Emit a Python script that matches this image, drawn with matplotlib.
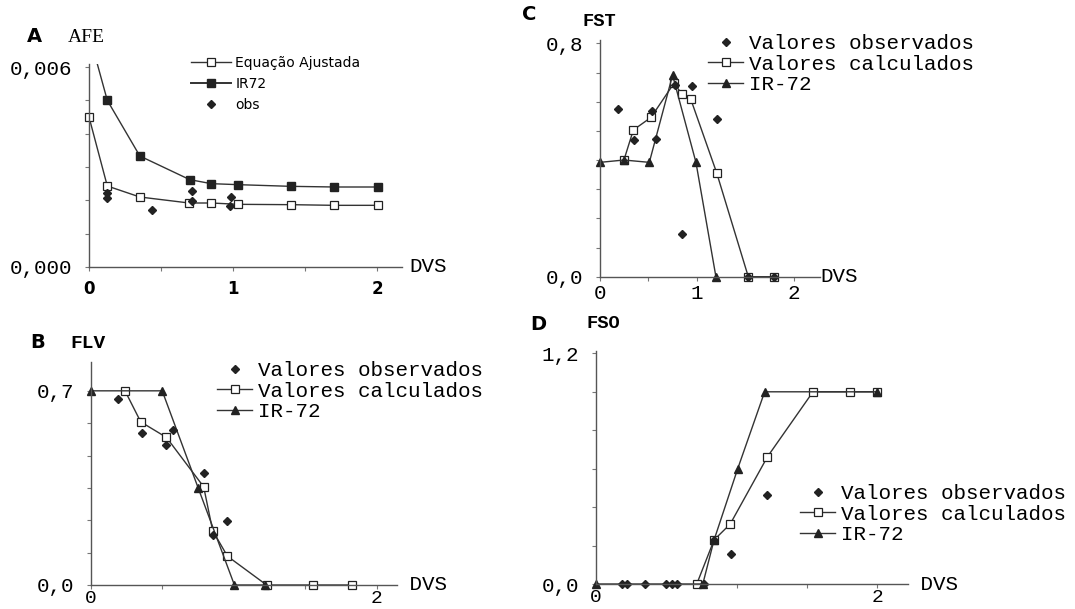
import numpy as np
import matplotlib.pyplot as plt
from matplotlib.lines import Line2D

# ---------------------------------------------------------------
# dados (DVS x variavel)
# ---------------------------------------------------------------

# A - AFE
afe_aj_x = [0.0, 0.127, 0.353, 0.695, 0.85, 1.037, 1.40, 1.704, 2.01]
afe_aj_y = [0.0045, 0.00243, 0.0021, 0.00192, 0.00192, 0.00188, 0.00187, 0.00185, 0.00185]
afe_ir_x = [0.0, 0.127, 0.353, 0.70, 0.85, 1.037, 1.40, 1.704, 2.01]
afe_ir_y = [0.0070, 0.0050, 0.00333, 0.00262, 0.0025, 0.00247, 0.00242, 0.0024, 0.0024]
afe_obs_x = [0.127, 0.127, 0.44, 0.716, 0.716, 0.984, 0.977]
afe_obs_y = [0.00222, 0.00208, 0.00172, 0.00228, 0.00197, 0.0021, 0.00182]

# B - FLV
flv_calc_x = [0.24, 0.35, 0.53, 0.79, 0.853, 0.956, 1.23, 1.557, 1.825]
flv_calc_y = [0.70, 0.588, 0.532, 0.354, 0.196, 0.104, 0.0, 0.0, 0.0]
flv_ir_x = [0.0, 0.50, 0.753, 1.005, 1.22]
flv_ir_y = [0.70, 0.70, 0.348, 0.0, 0.0]
flv_obs_x = [0.193, 0.357, 0.527, 0.578, 0.793, 0.853, 0.956]
flv_obs_y = [0.669, 0.549, 0.504, 0.558, 0.405, 0.18, 0.232]

# C - FST
fst_calc_x = [0.247, 0.344, 0.526, 0.763, 0.849, 0.935, 1.203, 1.53, 1.80]
fst_calc_y = [0.40, 0.503, 0.546, 0.663, 0.625, 0.61, 0.357, 0.0, 0.0]
fst_ir_x = [0.0, 0.247, 0.509, 0.749, 0.99, 1.196]
fst_ir_y = [0.392, 0.40, 0.392, 0.691, 0.392, 0.0]
fst_obs_x = [0.189, 0.35, 0.533, 0.574, 0.773, 0.945, 1.203, 0.849, 1.53, 1.80]
fst_obs_y = [0.574, 0.469, 0.569, 0.471, 0.657, 0.654, 0.54, 0.145, 0.0, 0.0]

# D - FSO
fso_calc_x = [0.717, 0.84, 0.955, 1.22, 1.544, 1.81, 2.0]
fso_calc_y = [0.0, 0.229, 0.312, 0.662, 1.0, 1.0, 1.0]
fso_ir_x = [0.0, 0.76, 0.84, 1.007, 1.20, 2.0]
fso_ir_y = [0.0, 0.0, 0.229, 0.597, 1.0, 1.0]
fso_obs_x = [0.183, 0.223, 0.349, 0.496, 0.539, 0.575, 0.77, 0.84, 0.96, 1.22]
fso_obs_y = [0.0, 0.0, 0.0, 0.0, 0.0, 0.0, 0.0, 0.229, 0.156, 0.463]

W, H = 1075, 609
fig = plt.figure(figsize=(W / 100, H / 100), dpi=100)

MONO = ['Courier New', 'Liberation Mono', 'Nimbus Mono PS', 'FreeMono', 'DejaVu Sans Mono']
NARROW = ['Liberation Sans Narrow', 'DejaVu Sans']
LC = '#333333'


def eixo(left, right, bottom, top):
    # posicao em pixels da imagem
    return fig.add_axes([left / W, 1 - bottom / H, (right - left) / W, (bottom - top) / H])


def fig_text(x, y, s, **kw):
    fig.text(x / W, 1 - y / H, s, **kw)


def estilo(ax, xmax, ymax, yticks, ylabels, xlabels, xfont, xsize, xweight='normal', xpad=6):
    ax.set_xlim(0, xmax)
    ax.set_ylim(0, ymax)
    for s in ['top', 'right']:
        ax.spines[s].set_visible(False)
    for s in ['left', 'bottom']:
        ax.spines[s].set_color('#555555')
        ax.spines[s].set_linewidth(1.0)
    ax.set_yticks(yticks)
    ax.set_yticklabels(ylabels, family=MONO, fontsize=15)
    ax.set_xticks([0, 0.5, 1, 1.5, 2])
    ax.set_xticklabels(xlabels, family=xfont, fontsize=xsize, fontweight=xweight)
    ax.tick_params(axis='both', length=3, width=0.8, color='#777777', direction='out')
    ax.tick_params(axis='y', pad=9)
    ax.tick_params(axis='x', pad=xpad)
    ax.patch.set_alpha(0)


def legenda(ax, handles, labels, x, y, prop, hl, tp, ls):
    ax.legend(handles, labels, loc='upper left', bbox_to_anchor=(x / W, 1 - y / H),
              bbox_transform=fig.transFigure, frameon=False, prop=prop,
              handlelength=hl, handletextpad=tp, labelspacing=ls,
              borderpad=0, borderaxespad=0, numpoints=1)


sq_open = dict(marker='s', ms=5.5, mfc='white', mec='#222222', mew=0.9)
sq_fill = dict(marker='s', ms=5.5, mfc='#222222', mec='#222222')
tri = dict(marker='^', ms=6, mfc='#222222', mec='#222222')
dia = dict(marker='D', ms=4.2, color='#222222', ls='none')

# ---------------- A ----------------
axA = eixo(89, 402, 267, 267 - 0.0061 / 0.006 * 200)
axA.plot(afe_aj_x, afe_aj_y, color=LC, lw=1.0, clip_on=False, **sq_open)
axA.plot(afe_ir_x, afe_ir_y, color=LC, lw=1.0, **sq_fill)
axA.plot(afe_obs_x, afe_obs_y, clip_on=False, **dia)
estilo(axA, (402 - 89) / 144, 0.0061, np.arange(7) * 0.001,
       ['0,000', '', '', '', '', '', '0,006'], ['0', '', '1', '', '2'],
       NARROW, 12, 'bold')
axA.text(1.025, 0, 'DVS', transform=axA.transAxes, ha='left', va='center',
         family=MONO, fontsize=15)
hA = [Line2D([], [], color=LC, lw=1.0, **sq_open),
      Line2D([], [], color=LC, lw=1.4, **sq_fill),
      Line2D([], [], **dia)]
legenda(axA, hA, ['Equação Ajustada', 'IR72', 'obs'], 191, 56,
        dict(family=NARROW, size=10), 2.9, 0.3, 0.5)
fig_text(27, 37, 'A', family='DejaVu Sans', fontweight='bold', fontsize=14, va='center')
fig_text(68, 38, 'AFE', family='Liberation Serif', fontsize=14, va='center')

# ---------------- B ----------------
axB = eixo(90.7, 396.7, 585, 361.7)
axB.plot(flv_calc_x, flv_calc_y, color=LC, lw=1.0, clip_on=False, **sq_open)
axB.plot(flv_ir_x, flv_ir_y, color=LC, lw=1.0, clip_on=False, **tri)
axB.plot(flv_obs_x, flv_obs_y, clip_on=False, **dia)
estilo(axB, 2.14, 0.805, np.arange(7) * 0.7 / 6,
       ['0,0', '', '', '', '', '', '0,7'], ['0', '', '', '', '2'], MONO, 14, xpad=0.5)
axB.text(1.0, 0, ' DVS', transform=axB.transAxes, ha='left', va='center',
         family=MONO, fontsize=15)
hB = [Line2D([], [], **dia),
      Line2D([], [], color=LC, lw=1.0, **sq_open),
      Line2D([], [], color=LC, lw=1.0, **tri)]
labB = ['Valores observados', 'Valores calculados', 'IR-72']
legenda(axB, hB, labB, 217, 361, dict(family=MONO, size=15), 1.7, 0.25, 0.08)
fig_text(30, 343, 'B', family='DejaVu Sans', fontweight='bold', fontsize=14, va='center')
fig_text(70, 343, 'FLV', family=MONO, fontweight='bold', fontsize=14, va='center')

# ---------------- C ----------------
axC = eixo(600, 820, 276.7, 276.7 - 0.81 * 291.7)
axC.plot(fst_calc_x, fst_calc_y, color=LC, lw=1.0, clip_on=False, **sq_open)
axC.plot(fst_ir_x, fst_ir_y, color=LC, lw=1.0, clip_on=False, **tri)
axC.plot(fst_obs_x, fst_obs_y, clip_on=False, **dia)
estilo(axC, 2.27, 0.81, np.arange(9) * 0.1,
       ['0,0', '', '', '', '', '', '', '', '0,8'], ['0', '', '1', '', '2'], MONO, 15, xpad=2)
axC.text(1.0, 0, 'DVS', transform=axC.transAxes, ha='left', va='center',
         family=MONO, fontsize=15)
legenda(axC, hB, labB, 708, 34, dict(family=MONO, size=15), 1.7, 0.25, 0.08)
fig_text(522, 14, 'C', family='DejaVu Sans', fontweight='bold', fontsize=14, va='center')
fig_text(583, 21, 'FST', family=MONO, fontweight='bold', fontsize=13.5, va='center')

# ---------------- D ----------------
axD = eixo(596, 908, 584, 584 - 1.21 * 192.2)
axD.plot(fso_calc_x, fso_calc_y, color=LC, lw=1.0, clip_on=False, **sq_open)
axD.plot(fso_ir_x, fso_ir_y, color=LC, lw=1.0, clip_on=False, **tri)
axD.plot(fso_obs_x, fso_obs_y, clip_on=False, **dia)
estilo(axD, 2.22, 1.21, np.arange(7) * 0.2,
       ['0,0', '', '', '', '', '', '1,2'], ['0', '', '', '', '2'], MONO, 14, xpad=0.5)
axD.text(1.0, 0, ' DVS', transform=axD.transAxes, ha='left', va='center',
         family=MONO, fontsize=15)
legenda(axD, hB, labB, 800, 484, dict(family=MONO, size=15), 1.7, 0.25, 0.08)
fig_text(530, 325, 'D', family='DejaVu Sans', fontweight='bold', fontsize=14, va='center')
fig_text(587, 323, 'FSO', family=MONO, fontweight='bold', fontsize=13.5, va='center')

fig.savefig('out.png', dpi=100)
